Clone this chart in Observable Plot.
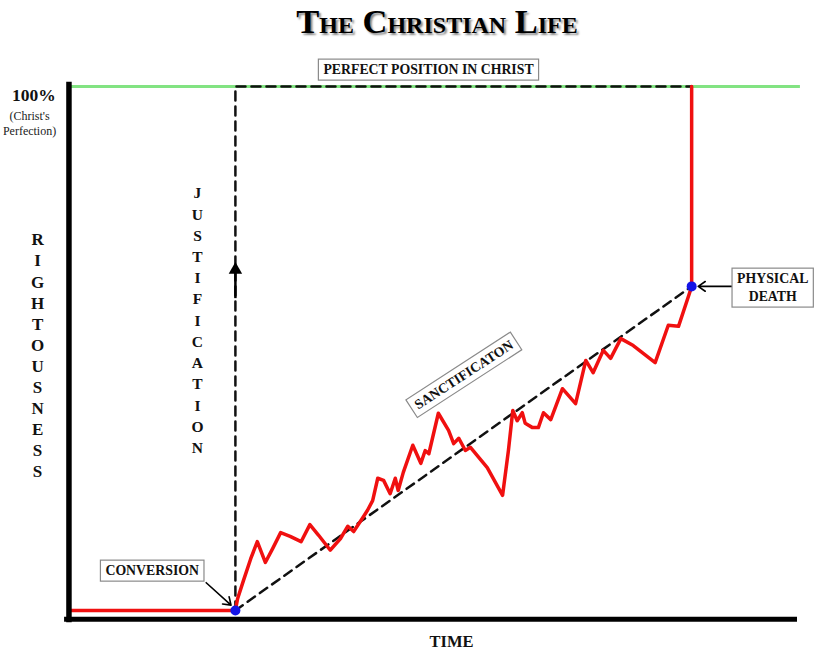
<!DOCTYPE html>
<html>
<head>
<meta charset="utf-8">
<script src="https://cdn.jsdelivr.net/npm/d3@7"></script>
<script src="https://cdn.jsdelivr.net/npm/@observablehq/plot@0.6"></script>
<style>
  body { margin: 0; background: #fff; }
  #head { height: 48px; position: relative; width: 814px; }
  #title { position: absolute; left: 437px; top: 4px; transform: translateX(-50%);
    font: bold 34.5px "Liberation Serif", "Times New Roman", serif; line-height: 1;
    font-variant: small-caps; text-shadow: 2px 2px 2px #888; white-space: nowrap; color: #000; }
</style>
</head>
<body>
<div id="head"><span id="title">The Christian Life</span></div>
<div id="chart"></div>
<script>
// ---- data ----
const lifeTime = [0.5, 23.0, 23.3, 24.1, 25.1, 26.0, 27.1, 28.1, 29.2, 30.5, 32.0, 33.2, 34.4, 36.0, 37.4, 38.4, 39.2, 40.4, 41.1, 41.8, 42.5, 43.3, 44.2, 44.9, 45.3, 46.0, 47.3, 48.4, 49.0, 49.5, 50.8, 52.2, 52.9, 53.6, 54.5, 55.2, 57.5, 59.6, 60.4, 61.0, 61.6, 62.3, 62.7, 63.7, 64.5, 65.2, 66.2, 67.8, 69.6, 71.0, 72.0, 73.4, 74.4, 75.8, 77.5, 80.5, 82.3, 83.7, 85.1, 85.5, 85.5];
const lifeRighteousness = [1.7, 1.7, 3.9, 7.3, 11.4, 14.6, 10.7, 13.3, 16.3, 15.6, 14.6, 17.8, 15.8, 13.0, 15.2, 17.5, 16.5, 19.0, 20.5, 22.3, 26.5, 26.1, 23.6, 26.5, 24.2, 27.6, 32.7, 29.3, 31.7, 31.1, 38.7, 35.5, 33.0, 34.0, 31.7, 32.3, 28.5, 23.3, 31.7, 39.2, 37.3, 38.8, 36.8, 36.0, 36.0, 38.8, 37.5, 43.3, 40.5, 48.6, 46.3, 50.5, 49.0, 52.7, 51.4, 48.2, 55.2, 55.0, 60.8, 62.5, 100];
const eventNames = ["Conversion", "Physical death"];
const eventTime = [23.0, 85.5];
const eventRighteousness = [1.7, 62.5];
const perfection = 100;

const boxedLabels = ["PERFECT POSITION IN CHRIST", "CONVERSION", "PHYSICAL\nDEATH", "SANCTIFICATON"];
const boxedX = [49.45, 11.6, 96.6, 54.2];
const boxedY = [103.4, 9.4, 62.5, 46.1];
const boxedRotate = [0, 0, 0, -33];

const life = lifeTime.map((t, i) => ({t, r: lifeRighteousness[i]}));
const events = eventNames.map((n, i) => ({name: n, t: eventTime[i], r: eventRighteousness[i]}));
const conv = events[0], death = events[1];
const justPath = [{t: conv.t, r: conv.r}, {t: conv.t, r: perfection}, {t: death.t, r: perfection}];
const sanctPath = [{t: conv.t, r: conv.r}, {t: death.t, r: death.r}];
const boxed = boxedLabels.map((s, i) => ({s, x: boxedX[i], y: boxedY[i], a: boxedRotate[i]}));

const serif = "Liberation Serif, Times New Roman, serif";

const chart = Plot.plot({
  width: 814, height: 604,
  marginLeft: 67, marginRight: 17, marginTop: 38, marginBottom: 33,
  x: {domain: [0, 100], axis: null},
  y: {domain: [0, 100], axis: null},
  style: {fontFamily: serif, background: "#fff", overflow: "visible"},
  marks: [
    Plot.ruleY([perfection], {x1: 0.5, x2: 100.4, stroke: "#82e382", strokeWidth: 3}),
    Plot.line(justPath, {x: "t", y: "r", stroke: "#111", strokeWidth: 2.5, strokeDasharray: "9,6"}),
    Plot.line(sanctPath, {x: "t", y: "r", stroke: "#111", strokeWidth: 2.5, strokeDasharray: "9,6"}),
    Plot.ruleX([conv.t], {y1: 60.2, y2: 65.5, stroke: "#000", strokeWidth: 2.5}),
    Plot.dot([{t: conv.t, r: 65.6}], {x: "t", y: "r", symbol: "triangle", r: 5, fill: "#000"}),
    Plot.line(life, {x: "t", y: "r", stroke: "#f01010", strokeWidth: 3.5, strokeLinejoin: "round", strokeLinecap: "round"}),
    Plot.ruleX([0.2], {y1: -0.6, y2: 100.8, stroke: "#000", strokeWidth: 5.5}),
    Plot.ruleY([0.05], {x1: -0.4, x2: 100, stroke: "#000", strokeWidth: 5}),
    Plot.dot(events, {x: "t", y: "r", r: 5, fill: "#1414e6"}),
    Plot.arrow([{x1: 19.0, y1: 6.9, x2: 22.4, y2: 2.7}], {x1: "x1", y1: "y1", x2: "x2", y2: "y2", stroke: "#000", strokeWidth: 1.6, headLength: 8, headAngle: 70}),
    Plot.arrow([{x1: 91.0, y1: 62.5, x2: 86.4, y2: 62.5}], {x1: "x1", y1: "y1", x2: "x2", y2: "y2", stroke: "#000", strokeWidth: 1.6, headLength: 8, headAngle: 70}),
    Plot.text(boxed, {x: "x", y: "y", text: "s", rotate: "a", fontSize: 13.8, fontWeight: "bold", fill: "#111", lineHeight: 1.3}),
    Plot.text(["100%"], {x: -4.6, y: 98.3, fontSize: 17.5, fontWeight: "bold", fill: "#111"}),
    Plot.text(["(Christ's\nPerfection)"], {x: -5.2, y: 93.2, fontSize: 12, fill: "#222", lineHeight: 1.2}),
    Plot.text(["R\nI\nG\nH\nT\nO\nU\nS\nN\nE\nS\nS"], {x: -4.1, y: 49.7, fontSize: 17, fontWeight: "bold", fill: "#111", lineHeight: 1.24}),
    Plot.text(["J\nU\nS\nT\nI\nF\nI\nC\nA\nT\nI\nO\nN"], {x: 17.8, y: 56.4, fontSize: 15.5, fontWeight: "bold", fill: "#111", lineHeight: 1.37}),
    Plot.text(["TIME"], {x: 52.6, y: -4.1, fontSize: 16.5, fontWeight: "bold", fill: "#111"})
  ]
});
document.getElementById("chart").appendChild(chart);

// draw grey boxes behind the boxed labels
const svgNS = "http://www.w3.org/2000/svg";
chart.querySelectorAll("text").forEach(t => {
  const content = Array.from(t.querySelectorAll("tspan")).map(s => s.textContent).join("\n") || t.textContent;
  if (!boxedLabels.includes(content)) return;
  const b = t.getBBox();
  const padX = 5, padY = 4;
  const r = document.createElementNS(svgNS, "rect");
  r.setAttribute("x", b.x - padX);
  r.setAttribute("y", b.y - padY + 1);
  r.setAttribute("width", b.width + 2 * padX);
  r.setAttribute("height", b.height + 2 * padY - 2);
  r.setAttribute("fill", "#fff");
  r.setAttribute("stroke", "#8a8a8a");
  r.setAttribute("stroke-width", "1.2");
  const tr = t.getAttribute("transform");
  if (tr) r.setAttribute("transform", tr);
  t.parentNode.insertBefore(r, t);
});
</script>
</body>
</html>
